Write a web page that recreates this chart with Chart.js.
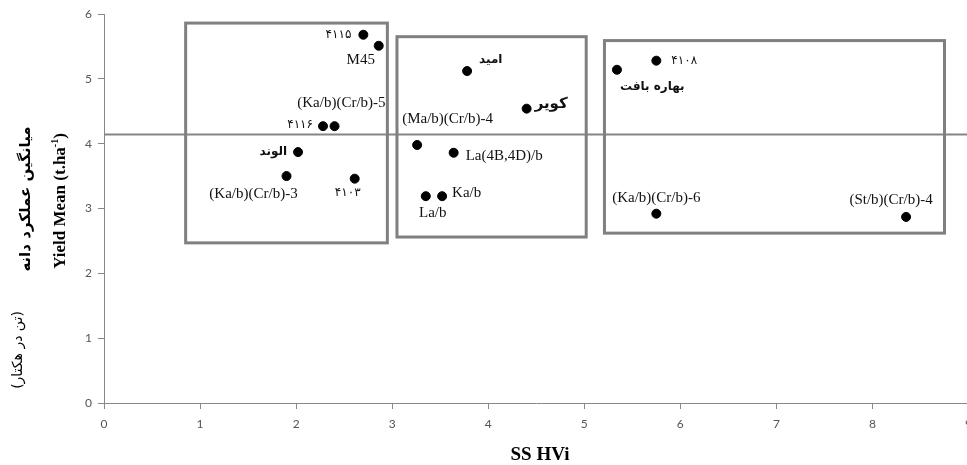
<!DOCTYPE html>
<html>
<head>
<meta charset="utf-8">
<script src="https://cdn.jsdelivr.net/npm/chart.js@4/dist/chart.umd.min.js"></script>
<style>
  html, body { margin: 0; padding: 0; background: #fff; overflow: hidden; }
  #wrap { width: 980px; height: 465px; }
</style>
</head>
<body>
<div id="wrap"><canvas id="chart" width="980" height="465"></canvas></div>
<script>
// genotype names, SS HVi (x) and yield mean (y)
var names = ['۴۱۱۵', 'M45', '۴۱۱۶', '(Ka/b)(Cr/b)-5', 'الوند', '(Ka/b)(Cr/b)-3', '۴۱۰۳',
             'امید', 'کویر', '(Ma/b)(Cr/b)-4', 'La(4B,4D)/b', 'La/b', 'Ka/b',
             '۴۱۰۸', 'بهاره بافت', '(Ka/b)(Cr/b)-6', '(St/b)(Cr/b)-4'];
var ssHVi = [2.70, 2.86, 2.28, 2.40, 2.02, 1.90, 2.61,
             3.78, 4.40, 3.26, 3.64, 3.35, 3.52,
             5.75, 5.34, 5.75, 8.35];
var yieldMean = [5.68, 5.51, 4.27, 4.27, 3.87, 3.50, 3.46,
                 5.12, 4.54, 3.98, 3.86, 3.19, 3.19,
                 5.28, 5.14, 2.92, 2.87];
var meanLine = 4.14;

// group boxes (in data units)
var boxLeft = [0.85, 3.05, 5.21];
var boxRight = [2.95, 5.02, 8.75];
var boxTop = [5.86, 5.65, 5.59];
var boxBottom = [2.47, 2.56, 2.62];

var xTicks = [0, 1, 2, 3, 4, 5, 6, 7, 8, 9];
var yTicks = [0, 1, 2, 3, 4, 5, 6];

// where each label sits relative to its point (px)
var labelPlace = [
  [-12, 0, 'right'], [-18, 14, 'center'], [-10, -1, 'right'], [51, -23, 'right'],
  [-11, 0, 'right'], [-33, 18, 'center'], [-7, 14, 'center'],
  [12, -11, 'left'], [8, -5, 'left'], [-15, -26, 'left'], [12, 3, 'left'],
  [7, 17, 'center'], [10, -3, 'left'],
  [15, 0, 'left'], [3, 17, 'left'], [0, -16, 'center'], [-15, -17, 'center']
];

function isPersian(s) { return /[\u0600-\u06FF]/.test(s); }

var points = ssHVi.map(function (v, i) { return { x: v, y: yieldMean[i] }; });

var extras = {
  id: 'extras',
  beforeDatasetsDraw: function (chart) {
    var ctx = chart.ctx, xs = chart.scales.x, ys = chart.scales.y;
    var area = chart.chartArea;
    ctx.save();
    // mean line
    ctx.strokeStyle = '#858585';
    ctx.lineWidth = 2;
    ctx.beginPath();
    var ly = ys.getPixelForValue(meanLine);
    ctx.moveTo(area.left, ly);
    ctx.lineTo(chart.width, ly);
    ctx.stroke();
    // boxes
    ctx.lineWidth = 3;
    ctx.strokeStyle = '#808080';
    for (var i = 0; i < boxLeft.length; i++) {
      var x1 = xs.getPixelForValue(boxLeft[i]), x2 = xs.getPixelForValue(boxRight[i]);
      var y1 = ys.getPixelForValue(boxTop[i]), y2 = ys.getPixelForValue(boxBottom[i]);
      ctx.strokeRect(x1, y1, x2 - x1, y2 - y1);
    }
    ctx.restore();
  },
  afterDatasetsDraw: function (chart) {
    var ctx = chart.ctx;
    var meta = chart.getDatasetMeta(0);
    ctx.save();
    ctx.fillStyle = '#111';
    ctx.textBaseline = 'middle';
    for (var i = 0; i < names.length; i++) {
      var el = meta.data[i];
      var p = labelPlace[i];
      if (isPersian(names[i])) {
        ctx.font = 'bold 12px "DejaVu Sans"';
        if (names[i] === 'کویر') ctx.font = 'bold 15px "DejaVu Sans"';
        if (/[۰-۹]/.test(names[i])) ctx.font = '12px "DejaVu Sans"';
      } else {
        ctx.font = '15px "Liberation Serif"';
      }
      ctx.textAlign = p[2];
      ctx.fillText(names[i], el.x + p[0], el.y + p[1]);
    }

    // axis titles
    ctx.fillStyle = '#000';
    ctx.font = 'bold 19px "Liberation Serif"';
    ctx.textAlign = 'center';
    ctx.fillText('SS HVi', 540, 455);

    ctx.save();
    ctx.translate(61, 201);
    ctx.rotate(-Math.PI / 2);
    ctx.font = 'bold 17px "Liberation Serif"';
    var main = 'Yield Mean (t.ha';
    var w1 = ctx.measureText(main).width;
    ctx.font = 'bold 10px "Liberation Serif"';
    var w2 = ctx.measureText('-1').width;
    ctx.font = 'bold 17px "Liberation Serif"';
    var w3 = ctx.measureText(')').width;
    var start = -(w1 + w2 + w3) / 2;
    ctx.textAlign = 'left';
    ctx.fillText(main, start, 0);
    ctx.font = 'bold 10px "Liberation Serif"';
    ctx.fillText('-1', start + w1, -6);
    ctx.font = 'bold 17px "Liberation Serif"';
    ctx.fillText(')', start + w1 + w2, 0);
    ctx.restore();

    ctx.save();
    ctx.translate(26, 199);
    ctx.rotate(-Math.PI / 2);
    ctx.textAlign = 'center';
    ctx.font = 'bold 15px "DejaVu Sans"';
    ctx.fillText('میانگین عملکرد دانه', 0, 0);
    ctx.restore();

    ctx.save();
    ctx.translate(18, 350);
    ctx.rotate(-Math.PI / 2);
    ctx.textAlign = 'center';
    ctx.font = '14px "DejaVu Sans"';
    ctx.fillText('(تن در هکتار)', 0, 0);
    ctx.restore();

    ctx.restore();
  }
};

var ctx = document.getElementById('chart').getContext('2d');
new Chart(ctx, {
  type: 'scatter',
  data: {
    datasets: [{
      data: points,
      backgroundColor: '#000',
      borderColor: '#000',
      pointRadius: 4.5,
      pointHoverRadius: 4.5
    }]
  },
  options: {
    responsive: false,
    animation: false,
    devicePixelRatio: 1,
    layout: { padding: { left: 0, top: 14, right: 10, bottom: 0 } },
    plugins: { legend: { display: false }, tooltip: { enabled: false } },
    scales: {
      x: {
        type: 'linear',
        min: 0, max: 9,
        afterFit: function (s) { s.height = 62; },
        afterBuildTicks: function (s) { s.ticks = xTicks.map(function (v) { return { value: v }; }); },
        grid: { drawOnChartArea: false, drawTicks: true, tickLength: 6, color: '#888' },
        border: { display: true, color: '#888', width: 1 },
        ticks: { color: '#555', font: { family: 'Lato', size: 12 }, padding: 8, maxRotation: 0 }
      },
      y: {
        type: 'linear',
        min: 0, max: 6,
        afterFit: function (s) { s.width = 104; },
        afterBuildTicks: function (s) { s.ticks = yTicks.map(function (v) { return { value: v }; }); },
        grid: { drawOnChartArea: false, drawTicks: true, tickLength: 6, color: '#888' },
        border: { display: true, color: '#888', width: 1 },
        ticks: { color: '#555', font: { family: 'Lato', size: 12 }, padding: 6 }
      }
    }
  },
  plugins: [extras]
});
</script>
</body>
</html>
